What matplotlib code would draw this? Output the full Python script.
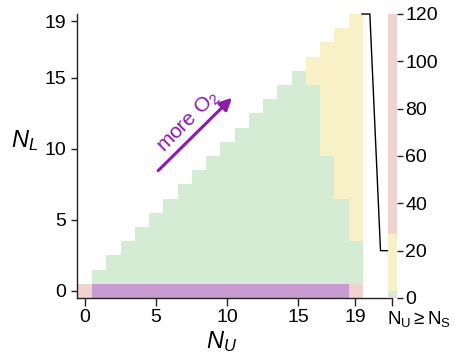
import numpy as np
import matplotlib
matplotlib.use("Agg")
import matplotlib.pyplot as plt
import matplotlib.transforms as mtransforms
from matplotlib.colors import ListedColormap

plt.rcParams['font.family'] = ['Liberation Sans', 'DejaVu Sans']
plt.rcParams['mathtext.fontset'] = 'custom'
plt.rcParams['mathtext.rm'] = 'Liberation Sans'
plt.rcParams['mathtext.it'] = 'Liberation Sans:italic'
plt.rcParams['mathtext.bf'] = 'Liberation Sans:bold'

# ---- data ----
n_u = list(range(20))                       # N_U values (columns)
green_max = [0, 1, 2, 3, 4, 5, 6, 7, 8, 9, 10, 11, 12, 13, 14, 15, 14, 9, 6, 3]
upper_max = list(range(20))                 # cells filled up to N_L = N_U
row0_cat = ['pink'] + ['purple'] * 18 + ['pink']
x_ticks = [0, 5, 10, 15, 19]
y_ticks = [0, 5, 10, 15, 19]
cb_bounds = [0, 0.7, 2.8, 27, 120]
cb_cats = ['pink', 'green', 'yellow', 'pink']
cb_ticks = [0, 20, 40, 60, 80, 100, 120]

colors = {'green': '#d4ecd3', 'yellow': '#f8f0c6', 'pink': '#f0d3cf', 'purple': '#c69cd1'}
code = {'green': 1, 'yellow': 2, 'pink': 3, 'purple': 4}
purple_dark = '#8c1aab'

# build grid
grid = np.full((20, 20), np.nan)
for x in n_u:
    grid[0, x] = code[row0_cat[x]]
    for y in range(1, upper_max[x] + 1):
        grid[y, x] = code['green'] if y <= green_max[x] else code['yellow']
cmap = ListedColormap(['white', colors['green'], colors['yellow'], colors['pink'], colors['purple']])
cmap.set_bad((1, 1, 1, 0))

fig = plt.figure(figsize=(4.56, 3.56), dpi=100)
ax = fig.add_axes([77/456, 58/356, 320/456, 284/356])
ax.imshow(np.ma.masked_invalid(grid), cmap=cmap, vmin=-0.5, vmax=4.5, origin='lower',
          extent=(-0.5, 19.5, -0.5, 19.5), aspect='auto', interpolation='nearest', zorder=1)
ax.set_xlim(-0.55, 21.96)
ax.set_ylim(-0.5, 19.5)

spc = '#222222'
for s in ['top', 'right']:
    ax.spines[s].set_visible(False)
for s in ['left', 'bottom']:
    ax.spines[s].set_color(spc)
    ax.spines[s].set_linewidth(1.0)
ax.spines['bottom'].set_bounds(-0.55, 21.6)

ax.set_xticks(x_ticks + [21.6])
ax.set_xticklabels([str(t) for t in x_ticks] + [r'$\mathrm{N_U\geq N_S}$'])
ax.set_yticks(y_ticks)
ax.tick_params(axis='x', length=6, width=1, color=spc, labelsize=14, pad=2)
ax.tick_params(axis='y', length=4, width=1, color=spc, labelsize=14, pad=4)
last = ax.get_xticklabels()[-1]
last.set_ha('left')
last.set_fontsize(13.5)
last.set_transform(last.get_transform() + mtransforms.ScaledTranslation(-5/100, 0, fig.dpi_scale_trans))

ax.set_xlabel(r'$N_U$', fontsize=17, va='center')
ax.xaxis.set_label_coords(0.453, -0.152)
ax.set_ylabel(r'$N_L$', fontsize=17, rotation=0, va='center', ha='center')
ax.yaxis.set_label_coords(-0.163, 0.553)

# colorbar column on twin axis
ax2 = ax.twinx()
ax2.set_ylim(0, 120)
for s in ax2.spines.values():
    s.set_visible(False)
for lo, hi, c in zip(cb_bounds[:-1], cb_bounds[1:], cb_cats):
    ax2.bar(21.32, hi - lo, bottom=lo, width=0.66, align='edge', color=colors[c], linewidth=0)
ax2.set_yticks(cb_ticks)
ax2.tick_params(axis='y', length=4, width=1, color=spc, labelsize=14, pad=2)
ax.set_xlim(-0.55, 21.96)

# connector line
y20 = 20 / 6 - 0.5
ax.plot([19.5, 20.05, 20.8, 21.32], [19.5, 19.5, y20, y20], color='black', lw=1.0,
        clip_on=False, zorder=5)

# arrow and text
ax.annotate('', xy=(10.35, 13.6), xytext=(5.16, 8.47),
            arrowprops=dict(arrowstyle='-|>', color=purple_dark, lw=2.2, mutation_scale=18,
                            shrinkA=0, shrinkB=0))
ax.text(7.3, 11.9, r'more O$_2$', rotation=45, ha='center', va='center',
        rotation_mode='anchor', color=purple_dark, fontsize=15)

fig.savefig('out.png', dpi=100)
